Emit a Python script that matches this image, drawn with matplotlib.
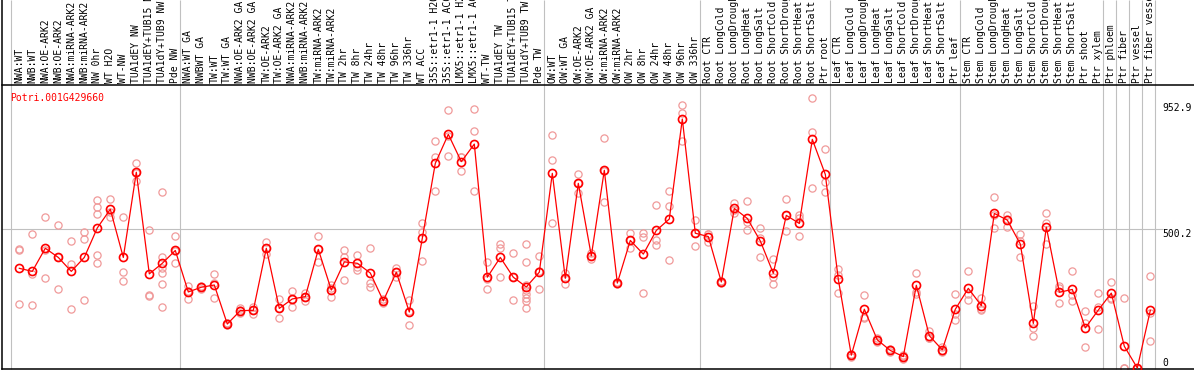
import matplotlib
matplotlib.use("Agg")
import matplotlib.pyplot as plt
import matplotlib.transforms as mtransforms

gene_id = "Potri.001G429660"

labels = [
    "NWA:WT", "NWB:WT", "NWA:OE-ARK2", "NWB:OE-ARK2", "NWA:miRNA-ARK2", "NWB:miRNA-ARK2",
    "NW 0hr", "WT H2O", "WT-NW", "TUA1dEY NW", "TUA1dEY+TUB15 NW", "TUA1dY+TUB9 NW", "Pde NW",
    "NWA:WT GA", "NWBWT GA", "TW:WT", "TW:WT GA", "NWA:OE-ARK2 GA", "NWB:OE-ARK2 GA",
    "TW:OE-ARK2", "TW:OE-ARK2 GA", "NWA:miRNA-ARK2 GA", "NWB:miRNA-ARK2 GA", "TW:miRNA-ARK2",
    "TW:miRNA-ARK2", "TW 2hr", "TW 8hr", "TW 24hr", "TW 48hr", "TW 96hr", "TW 336hr", "WT ACC",
    "35S::etr1-1 H2O", "35S::etr1-1 ACC", "LMX5::etr1-1 H2O", "LMX5::etr1-1 ACC", "WT-TW",
    "TUA1dEY TW", "TUA1dEY+TUB15 TW", "TUA1dY+TUB9 TW", "Pde TW",
    "OW:WT", "OW:WT GA", "OW:OE-ARK2", "OW:OE-ARK2 GA", "OW:miRNA-ARK2", "OW:miRNA-ARK2",
    "OW 2hr", "OW 8hr", "OW 24hr", "OW 48hr", "OW 96hr", "OW 336hr",
    "Root CTR", "Root LongCold", "Root LongDrought", "Root LongHeat", "Root LongSalt",
    "Root ShortCold", "Root ShortDrought", "Root ShortHeat", "Root ShortSalt", "Ptr root",
    "Leaf CTR", "Leaf LongCold", "Leaf LongDrought", "Leaf LongHeat", "Leaf LongSalt",
    "Leaf ShortCold", "Leaf ShortDrought", "Leaf ShortHeat", "Leaf ShortSalt", "Ptr leaf",
    "Stem CTR", "Stem LongCold", "Stem LongDrought", "Stem LongHeat", "Stem LongSalt",
    "Stem ShortCold", "Stem ShortDrought", "Stem ShortHeat", "Stem ShortSalt", "Ptr shoot",
    "Ptr xylem", "Ptr phloem", "Ptr fiber", "Ptr vessel", "Ptr fiber vessel",
]

# number of samples in each block between the vertical separators
group_sizes = [13, 28, 12, 10, 10, 11, 1, 1, 1, 1]

means = [
    358, 347, 430, 397, 347, 397, 503, 570, 397, 703, 338, 376, 422,
    273, 290, 298, 158, 206, 207, 430, 214, 248, 256, 426, 280, 381, 376, 341, 241, 344,
    201, 466, 735, 839, 741, 804, 326, 397, 326, 291, 344,
    699, 322, 663, 403, 710, 305, 458, 409, 494, 535, 894, 484,
    472, 309, 573, 537, 456, 340, 548, 519, 821, 695,
    318, 46, 211, 101, 63, 41, 297, 116, 65, 211,
    286, 224, 555, 531, 445, 160, 506, 272, 282, 144, 208,
    269, 78, 0, 207,
]

replicates = [
    [427, 423, 229], [480, 339, 225], [541, 424, 322], [512, 397, 283], [455, 373, 211],
    [487, 462, 243], [602, 577, 552, 406, 376], [606, 560, 543], [541, 344, 311],
    [735, 700, 673], [494, 261, 257], [631, 400, 358, 340, 300, 219], [474, 419, 376],
    [294, 249, 276], [296, 283, 291], [338, 306, 250], [161, 153, 160], [214, 196, 208],
    [220, 194, 207], [452, 409, 430], [247, 181, 214], [277, 220, 247], [271, 242, 255],
    [474, 379, 426], [298, 256, 286], [424, 400, 315], [406, 364, 352], [430, 304, 292],
    [247, 235, 241], [360, 328, 344], [244, 153, 206], [519, 488, 383], [814, 756, 634],
    [925, 760, 832], [759, 758, 706], [930, 850, 634], [379, 318, 283], [444, 430, 326],
    [412, 243, 326], [445, 379, 298, 280, 266, 250, 239, 214], [402, 283, 347],
    [835, 746, 519], [342, 300, 324], [695, 630, 664], [403, 393, 413], [825, 597, 708],
    [310, 300, 305], [484, 430, 460], [486, 470, 268], [584, 460, 440], [636, 582, 387],
    [944, 917, 816], [531, 437, 484],
    [481, 454, 481], [312, 304, 311], [594, 558, 567], [600, 525, 496], [503, 466, 399],
    [391, 328, 300], [607, 491, 548], [548, 540, 473], [968, 846, 645], [785, 669, 631],
    [354, 334, 268], [50, 41, 47], [261, 184, 178], [107, 95, 101], [69, 57, 63],
    [46, 34, 43], [340, 274, 266], [134, 107, 107], [77, 59, 60], [266, 194, 172],
    [347, 266, 244], [253, 211, 208], [613, 502, 551], [549, 508, 536], [480, 457, 397],
    [223, 145, 114], [555, 522, 445], [294, 288, 232], [347, 262, 241], [205, 160, 74],
    [269, 219, 140], [309, 250, 249], [250, 0, 0], [0, 0], [330, 199, 97],
]

y_ticks = [952.9, 500.2, 0]

mono = "DejaVu Sans Mono"
grid_col = "#c0c0c0"
rep_col = "#f09a9a"

fig = plt.figure(figsize=(11.94, 3.70), dpi=100)
ax = fig.add_axes([2 / 1194, 1 / 370, 1192 / 1194, 284 / 370])
ax.set_xlim(-1.331, 90.36)
ax.set_ylim(-3.59, 1016.2)
ax.set_xticks([])
ax.set_yticks([])
ax.spines["right"].set_visible(False)
ax.spines["left"].set_visible(False)
for s in ["top", "bottom"]:
    ax.spines[s].set_color("black")
    ax.spines[s].set_linewidth(1.1)

blend = mtransforms.blended_transform_factory(ax.transData, ax.transAxes)
head_top = 1 + 85 / 284

# left border runs through the header too
ax.plot([-1.331, -1.331], [0, head_top], transform=blend, color="black", lw=1.1, clip_on=False)

# block separators
starts = [0]
for g in group_sizes:
    starts.append(starts[-1] + g)
ax.vlines([s - 0.62 for s in starts], 0, head_top, transform=blend, colors=grid_col,
          lw=0.8, clip_on=False, zorder=0)
ax.hlines(500.2, -1.331, 88.0, colors=grid_col, lw=0.8, zorder=0)

x = list(range(len(means)))

for i, reps in enumerate(replicates):
    ax.plot([i] * len(reps), reps, linestyle="none", marker="o", ms=5.2, mfc="none",
            mec=rep_col, mew=0.9, zorder=2)

ax.plot(x, means, color="red", lw=0.9, zorder=3)
ax.plot(x, means, linestyle="none", marker="o", ms=5.8, mfc="none", mec="red",
        mew=1.2, zorder=4)

for i, lab in enumerate(labels):
    ax.text(i, 1 + 2 / 284, lab, transform=blend, rotation=90, ha="center", va="bottom",
            fontsize=7, family=mono, clip_on=False)

ax.text(0.0065, 1 - 8 / 284, gene_id, transform=ax.transAxes, color="red", fontsize=7,
        family=mono, ha="left", va="top")

for v in y_ticks:
    ax.text(87.9, v, f"{v:g}" if v == 0 else f"{v}", fontsize=7, family=mono, ha="left",
            va="bottom" if v == 0 else "top", clip_on=False)

fig.savefig("out.png", dpi=100)
